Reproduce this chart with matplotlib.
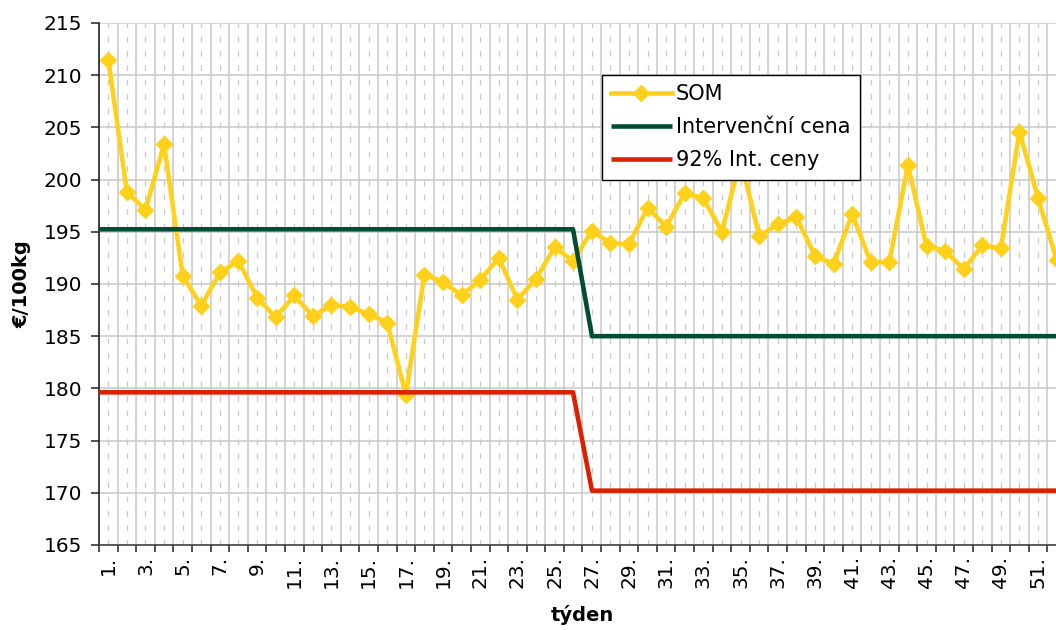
import numpy as np
import matplotlib
matplotlib.use('Agg')
import matplotlib.pyplot as plt

# weekly data
weeks = list(range(1, 53))
som = [211.5, 198.8, 197.1, 203.4, 190.8, 187.9, 191.1, 192.2, 188.7, 186.8,
       188.9, 186.9, 188.0, 187.8, 187.1, 186.3, 179.4, 190.9, 190.2, 188.9,
       190.4, 192.5, 188.5, 190.5, 193.5, 192.2, 195.1, 193.9, 193.8, 197.3,
       195.5, 198.7, 198.2, 195.0, 202.0, 194.6, 195.7, 196.4, 192.7, 191.9,
       196.7, 192.1, 192.1, 201.4, 193.6, 193.2, 191.4, 193.7, 193.4, 204.6,
       198.2, 192.3]
interv = [195.24] * 26 + [185.0] * 26
interv_92 = [round(v * 0.92, 2) for v in interv]
tick_labels = ['{}.'.format(w) if w % 2 == 1 else '' for w in weeks]

yellow = '#FFD11A'
green = '#004D33'
red = '#DD1F00'
grid_c = '#C8C8C8'

fig = plt.figure(figsize=(10.56, 6.3), dpi=100)
ax = fig.add_axes([0.09375, 0.135, 0.9157, 0.8285])

ax.plot(weeks, som, color=yellow, lw=3.3, marker='D', ms=8, label='SOM', zorder=3)

ax.set_xlim(0.5, 52.5)
ax.set_ylim(165, 215)
ax.set_yticks(np.arange(165, 216, 5))

# category boundaries as major ticks, week centres as minor (labelled)
ax.set_xticks(np.arange(0.5, 53, 1))
ax.set_xticklabels([])
ax.set_xticks(weeks, minor=True)
ax.set_xticklabels(tick_labels, minor=True, rotation=90, fontsize=14.5)
ax.tick_params(axis='x', which='major', length=5, width=1.2, color='#333333')
ax.tick_params(axis='x', which='minor', length=0, pad=8)
ax.tick_params(axis='y', length=6, width=1.2, color='#333333', labelsize=14.5, pad=6)

ax.grid(True, axis='y', color=grid_c, lw=1.1)
ax.grid(True, axis='x', which='major', color=grid_c, lw=1.1)
ax.grid(True, axis='x', which='minor', color=grid_c, lw=0.9, ls=(0, (4.5, 7)))
ax.set_axisbelow(True)

for s in ['top', 'right']:
    ax.spines[s].set_visible(False)
ax.spines['left'].set_color('#222222')
ax.spines['bottom'].set_color('#444444')
ax.spines['left'].set_linewidth(1.2)
ax.spines['bottom'].set_linewidth(1.2)

ax.set_ylabel('€/100kg', fontsize=14, fontweight='bold', labelpad=9)
ax.set_xlabel('týden', fontsize=14, fontweight='bold', labelpad=12)

# intervention prices on a secondary category axis (points on tick marks)
ax2 = ax.twiny()
ax2.set_xlim(1, 52)
ax2.plot(weeks, interv, color=green, lw=3.3, label='Intervenční cena', solid_capstyle='butt')
ax2.plot(weeks, interv_92, color=red, lw=3.3, label='92% Int. ceny', solid_capstyle='butt')
ax2.set_xticks([])
for s in ax2.spines.values():
    s.set_visible(False)

h1, l1 = ax.get_legend_handles_labels()
h2, l2 = ax2.get_legend_handles_labels()
leg = ax2.legend(h1 + h2, l1 + l2, loc='upper left', bbox_to_anchor=(0.520, 0.9004),
                 fontsize=15, frameon=True, fancybox=False, edgecolor='black',
                 framealpha=1, handlelength=2.9, borderpad=0.45, labelspacing=0.62,
                 handletextpad=0.2, borderaxespad=0)
leg.get_frame().set_linewidth(1.0)

fig.savefig('out.png', dpi=100)
